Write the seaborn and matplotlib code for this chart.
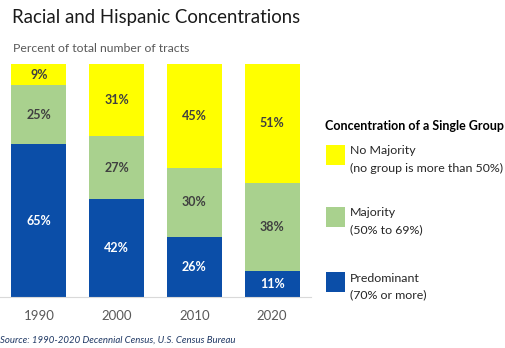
import pandas as pd
import numpy as np
import seaborn as sns
import matplotlib.pyplot as plt
from matplotlib.patches import Rectangle

years = ["1990", "2000", "2010", "2020"]
predominant = [65, 42, 26, 11]
majority = [25, 27, 30, 38]
no_majority = [9, 31, 45, 51]

layer_names = ["Predominant", "Majority", "No Majority"]
layer_colors = ["#0B4EA8", "#A9D18E", "#FFFF00"]
legend_main = ["No Majority", "Majority", "Predominant"]
legend_sub = ["(no group is more than 50%)", "(50% to 69%)", "(70% or more)"]

sns.set_style("white")
plt.rcParams['font.family'] = ['Lato', 'DejaVu Sans']

df = pd.DataFrame({"year": years, "Predominant": predominant,
                   "Majority": majority, "No Majority": no_majority})
# 100% stacked: shares of each year's total
tot = df[layer_names].sum(axis=1)
shares = df[layer_names].div(tot, axis=0) * 100

W, H = 505, 348
fig = plt.figure(figsize=(W / 100, H / 100), dpi=100)
ax = fig.add_axes([0 / W, 1 - 297 / H, 311 / W, 233 / H])

bottom = np.zeros(len(years))
for name, col in zip(layer_names, layer_colors):
    sns.barplot(x=df["year"], y=shares[name], color=col, width=0.71,
                bottom=bottom, ax=ax, saturation=1, linewidth=0)
    for i, v in enumerate(df[name]):
        tc = "white" if name == "Predominant" else "#404040"
        ax.text(i, bottom[i] + shares[name][i] / 2, f"{v}%", ha="center", va="center",
                color=tc, fontsize=9, fontweight="bold")
    bottom = bottom + shares[name].values

ax.set_ylim(0, 100)
ax.set_xlim(-0.5, 3.5)
ax.set_xlabel("")
ax.set_ylabel("")
ax.set_yticks([])
for s in ["top", "left", "right"]:
    ax.spines[s].set_visible(False)
ax.spines["bottom"].set_color("#D9D9D9")
ax.tick_params(axis="x", length=0, pad=9, labelsize=9.5, labelcolor="#595959")

def fx(x):
    return x / W

def fy(y):
    return 1 - y / H

fig.text(fx(12), fy(18), "Racial and Hispanic Concentrations", fontsize=13.4,
         color="#1A1A1A", va="center", ha="left")
fig.text(fx(13), fy(49), "Percent of total number of tracts", fontsize=8.8,
         color="#595959", va="center", ha="left")

fig.text(fx(325), fy(126), "Concentration of a Single Group", fontsize=9,
         fontweight="bold", color="black", va="center", ha="left")
patch_tops = [145, 207, 272]
for top, col, m, s in zip(patch_tops, layer_colors[::-1], legend_main, legend_sub):
    fig.add_artist(Rectangle((fx(326), fy(top + 20)), 19 / W, 20 / H,
                             transform=fig.transFigure, color=col, lw=0))
    fig.text(fx(350), fy(top + 6), m, fontsize=8.9, color="#262626", va="center", ha="left")
    fig.text(fx(350), fy(top + 23), s, fontsize=8.9, color="#262626", va="center", ha="left")

fig.text(fx(0), fy(340), "Source: 1990-2020 Decennial Census, U.S. Census Bureau",
         fontsize=6.9, style="italic", color="#1F3864", va="center", ha="left")

fig.savefig("out.png", dpi=100)
